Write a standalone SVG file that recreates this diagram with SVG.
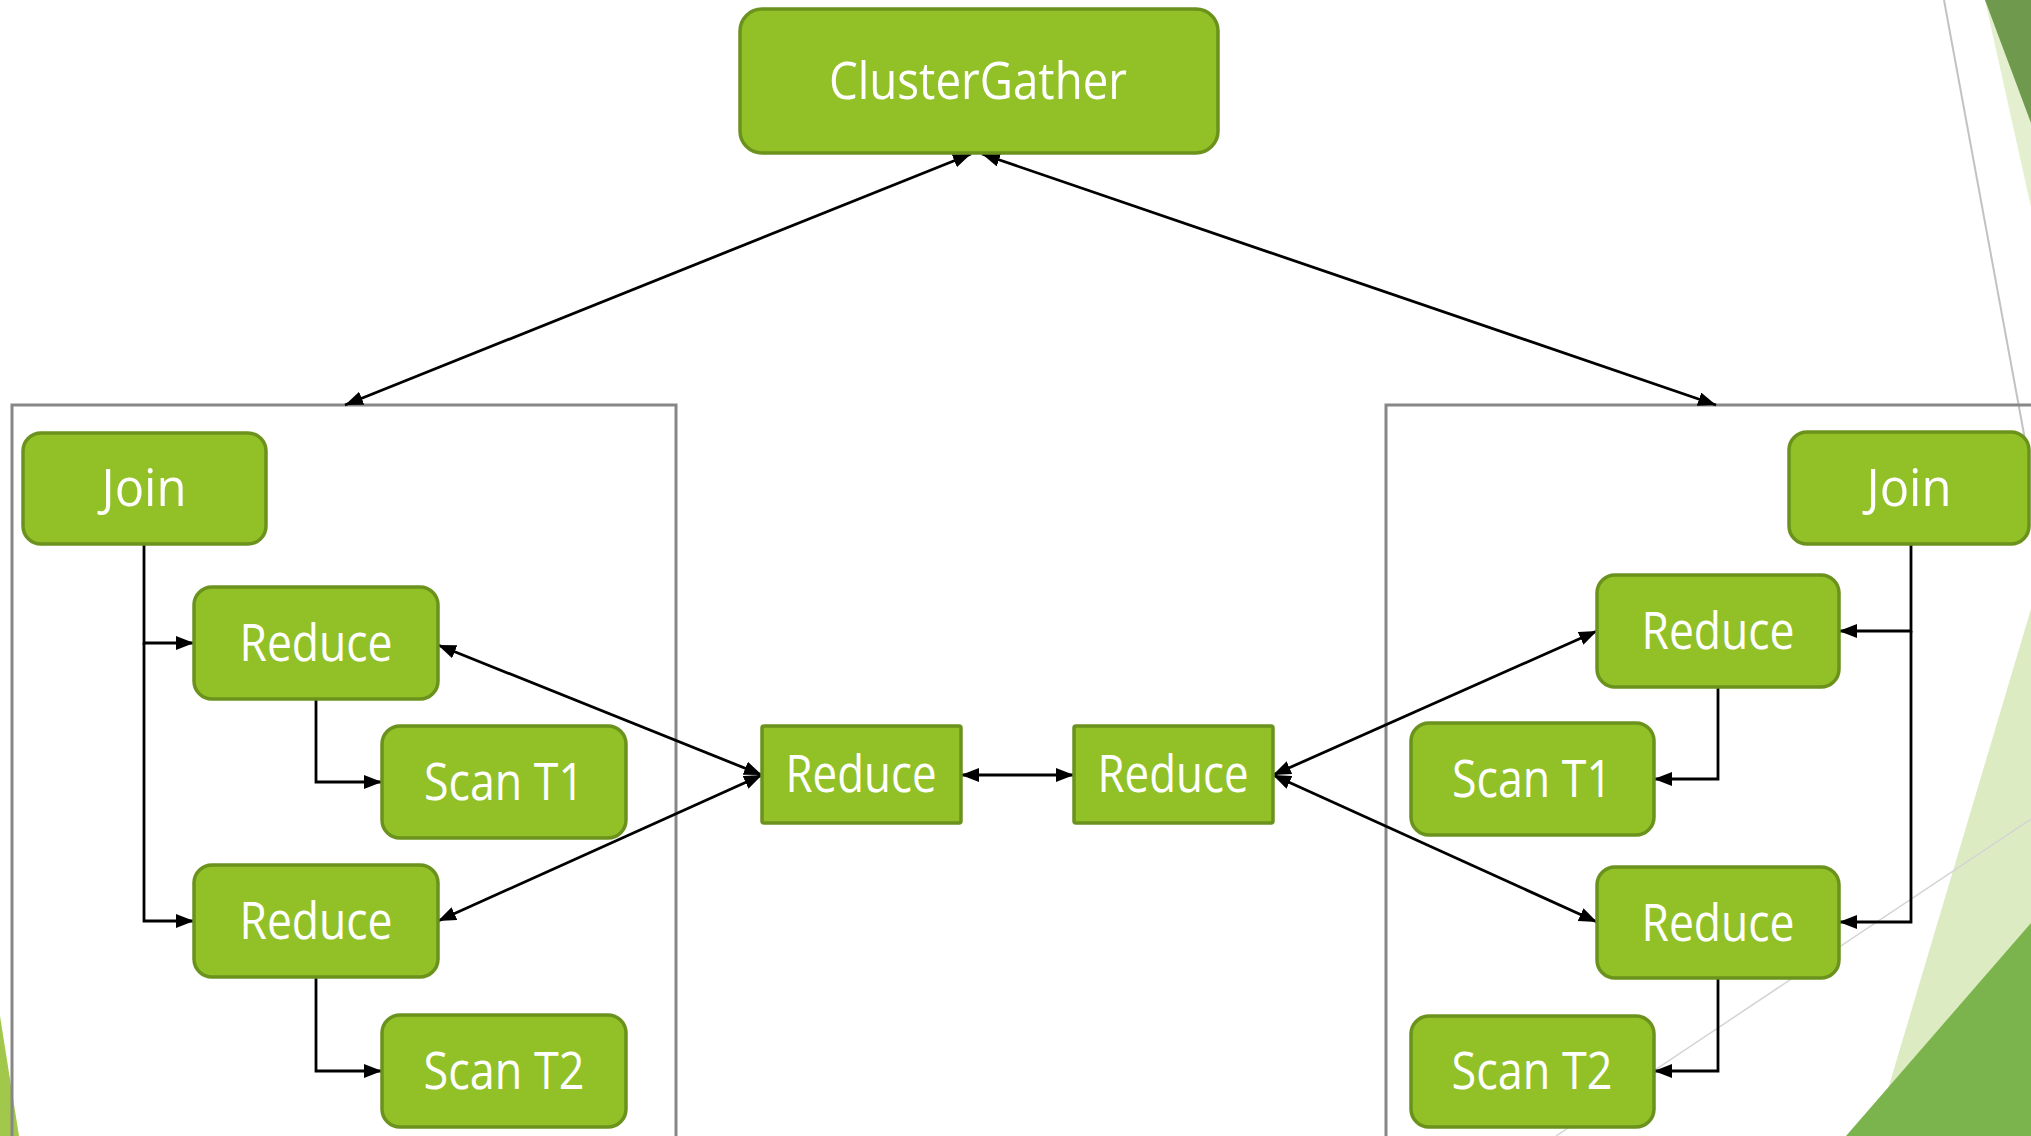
<svg xmlns="http://www.w3.org/2000/svg" width="2031" height="1136" viewBox="0 0 2031 1136">
<defs>
<style>
.node{fill:#91c127;stroke:#6b921d;stroke-width:3.5}
.box{fill:none;stroke:#878787;stroke-width:3}
.lbl{font-family:"Open Sans","Noto Sans","DejaVu Sans",sans-serif;font-size:51px;fill:#ffffff;text-anchor:middle}
.c{fill:none;stroke:#000;stroke-width:2.8}
.bi{marker-start:url(#ah);marker-end:url(#ah)}
.one{marker-end:url(#ah)}
</style>
<marker id="ah" viewBox="0 0 18 14" refX="18" refY="7" markerWidth="18" markerHeight="14" markerUnits="userSpaceOnUse" orient="auto-start-reverse">
<path d="M0,0 L18,7 L0,14 z" fill="#000"/>
</marker>
</defs>
<rect width="2031" height="1136" fill="#ffffff"/>
<g id="decor">
<polygon points="1985,0 2031,0 2031,207" fill="#e3efcf"/>
<polygon points="1985,0 2031,0 2031,123" fill="#6f9a4e"/>
<line x1="1944" y1="0" x2="2026" y2="445" stroke="#c2c2c2" stroke-width="2"/>
<polygon points="2031,609 1874,1136 2031,1136" fill="#ddebc3"/>
<polygon points="2031,923 1846,1136 2031,1136" fill="#7bb34c"/>
<line x1="2031" y1="819" x2="1556" y2="1136" stroke="#d4d4d4" stroke-width="1.5"/>
<polygon points="0,1016 19,1136 0,1136" fill="#a2c84b"/>
</g>
<g id="containers">
<rect class="box" x="12" y="405" width="664" height="745"/>
<rect class="box" x="1386" y="405" width="700" height="745"/>
</g>
<g id="connectors">
<line class="c bi" x1="345" y1="405" x2="971" y2="154"/>
<line class="c bi" x1="982" y1="154" x2="1716" y2="405"/>
<polyline class="c one" points="144,544 144,643 194,643"/>
<polyline class="c one" points="144,643 144,921 194,921"/>
<polyline class="c one" points="316,699 316,782 382,782"/>
<polyline class="c one" points="316,977 316,1071 382,1071"/>
<polyline class="c one" points="1911,544 1911,631 1839,631"/>
<polyline class="c one" points="1911,631 1911,922 1839,922"/>
<polyline class="c one" points="1718,687 1718,779 1654,779"/>
<polyline class="c one" points="1718,978 1718,1071 1654,1071"/>
<line class="c bi" x1="438" y1="645" x2="762" y2="775"/>
<line class="c bi" x1="438" y1="921" x2="762" y2="775"/>
<line class="c bi" x1="961" y1="775" x2="1074" y2="775"/>
<line class="c bi" x1="1273" y1="775" x2="1597" y2="631"/>
<line class="c bi" x1="1273" y1="775" x2="1597" y2="922"/>
</g>
<g id="n-clustergather"><rect class="node" x="740" y="9" width="478" height="144" rx="22"/><text class="lbl" x="978" y="99" textLength="298" lengthAdjust="spacingAndGlyphs">ClusterGather</text></g>
<g id="n-join-l"><rect class="node" x="23" y="433" width="243" height="111" rx="18"/><text class="lbl" x="144" y="506" textLength="85" lengthAdjust="spacingAndGlyphs">Join</text></g>
<g id="n-reduce-l1"><rect class="node" x="194" y="587" width="244" height="112" rx="18"/><text class="lbl" x="316" y="661" textLength="153" lengthAdjust="spacingAndGlyphs">Reduce</text></g>
<g id="n-scan-l1"><rect class="node" x="382" y="726" width="244" height="112" rx="18"/><text class="lbl" x="504" y="800" textLength="160" lengthAdjust="spacingAndGlyphs">Scan T1</text></g>
<g id="n-reduce-l2"><rect class="node" x="194" y="865" width="244" height="112" rx="18"/><text class="lbl" x="316" y="939" textLength="153" lengthAdjust="spacingAndGlyphs">Reduce</text></g>
<g id="n-scan-l2"><rect class="node" x="382" y="1015" width="244" height="112" rx="18"/><text class="lbl" x="504" y="1089" textLength="161" lengthAdjust="spacingAndGlyphs">Scan T2</text></g>
<g id="n-reduce-m1"><rect class="node" x="762" y="726" width="199" height="97" rx="2"/><text class="lbl" x="861" y="792" textLength="151" lengthAdjust="spacingAndGlyphs">Reduce</text></g>
<g id="n-reduce-m2"><rect class="node" x="1074" y="726" width="199" height="97" rx="2"/><text class="lbl" x="1173" y="792" textLength="151" lengthAdjust="spacingAndGlyphs">Reduce</text></g>
<g id="n-join-r"><rect class="node" x="1789" y="432" width="240" height="112" rx="18"/><text class="lbl" x="1909" y="506" textLength="85" lengthAdjust="spacingAndGlyphs">Join</text></g>
<g id="n-reduce-r1"><rect class="node" x="1597" y="575" width="242" height="112" rx="18"/><text class="lbl" x="1718" y="649" textLength="153" lengthAdjust="spacingAndGlyphs">Reduce</text></g>
<g id="n-scan-r1"><rect class="node" x="1411" y="723" width="243" height="112" rx="18"/><text class="lbl" x="1532" y="797" textLength="160" lengthAdjust="spacingAndGlyphs">Scan T1</text></g>
<g id="n-reduce-r2"><rect class="node" x="1597" y="867" width="242" height="111" rx="18"/><text class="lbl" x="1718" y="941" textLength="153" lengthAdjust="spacingAndGlyphs">Reduce</text></g>
<g id="n-scan-r2"><rect class="node" x="1411" y="1016" width="243" height="111" rx="18"/><text class="lbl" x="1532" y="1089" textLength="161" lengthAdjust="spacingAndGlyphs">Scan T2</text></g>
</svg>
